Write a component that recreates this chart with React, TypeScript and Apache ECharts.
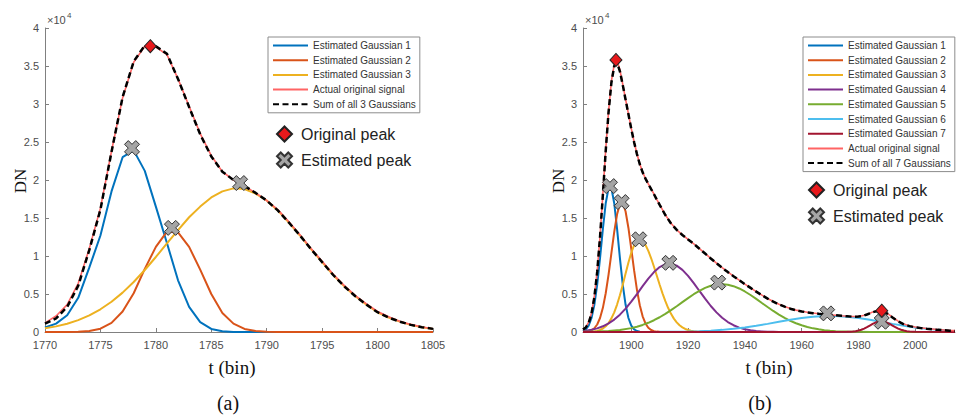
import React, { useEffect, useRef } from "react";
import * as echarts from "echarts";

// ---------- (a) left panel: values in units of 10^4 DN ----------
const binsA = [1770, 1771, 1772, 1773, 1774, 1775, 1776, 1777, 1778, 1779, 1780, 1781, 1782, 1783, 1784, 1785, 1786, 1787, 1788, 1789, 1790, 1791, 1792, 1793, 1794, 1795, 1796, 1797, 1798, 1799, 1800, 1801, 1802, 1803, 1804, 1805];
const gaussA1 = [0.06, 0.11, 0.22, 0.45, 0.85, 1.27, 1.85, 2.3, 2.39, 2.12, 1.65, 1.17, 0.68, 0.33, 0.13, 0.04, 0.01, 0, 0, 0, 0, 0, 0, 0, 0, 0, 0, 0, 0, 0, 0, 0, 0, 0, 0, 0];
const gaussA2 = [0, 0, 0.001, 0.004, 0.014, 0.044, 0.12, 0.27, 0.51, 0.83, 1.12, 1.32, 1.31, 1.12, 0.82, 0.5, 0.25, 0.11, 0.04, 0.012, 0.003, 0, 0, 0, 0, 0, 0, 0, 0, 0, 0, 0, 0, 0, 0, 0];
const gaussA3 = [0.049, 0.074, 0.109, 0.156, 0.218, 0.299, 0.398, 0.518, 0.658, 0.816, 0.987, 1.165, 1.34, 1.51, 1.65, 1.77, 1.85, 1.89, 1.88, 1.82, 1.73, 1.6, 1.44, 1.27, 1.09, 0.92, 0.75, 0.6, 0.47, 0.36, 0.26, 0.19, 0.136, 0.094, 0.063, 0.041];
const originalA = [0.12, 0.21, 0.36, 0.64, 1.1, 1.63, 2.38, 3.08, 3.55, 3.76, 3.75, 3.65, 3.33, 2.97, 2.61, 2.32, 2.11, 2.0, 1.92, 1.83, 1.73, 1.61, 1.45, 1.28, 1.1, 0.93, 0.76, 0.61, 0.48, 0.37, 0.27, 0.2, 0.14, 0.1, 0.066, 0.043];
const sumA = [0.11, 0.18, 0.33, 0.61, 1.08, 1.61, 2.37, 3.09, 3.56, 3.77, 3.76, 3.66, 3.33, 2.96, 2.6, 2.31, 2.11, 2.0, 1.92, 1.83, 1.73, 1.6, 1.44, 1.27, 1.09, 0.92, 0.75, 0.6, 0.47, 0.36, 0.26, 0.19, 0.136, 0.094, 0.063, 0.041];
const origPeakA = [[1779.5, 3.76]];
const estPeakA = [[1777.85, 2.42], [1781.45, 1.37], [1787.6, 1.96]];

// ---------- (b) right panel: [bin, value in 10^4 DN] ----------
const gaussB1 = [[1883, 0.013], [1884, 0.035], [1885, 0.084], [1886, 0.184], [1887, 0.358], [1888, 0.624], [1889, 0.972], [1890, 1.357], [1891, 1.694], [1892, 1.894], [1893, 1.894], [1894, 1.694], [1895, 1.357], [1896, 0.972], [1897, 0.624], [1898, 0.358], [1899, 0.184], [1900, 0.084], [1901, 0.035], [1902, 0.013], [1903, 0.004], [1904, 0.001], [1905, 0], [2014, 0]];
const gaussB2 = [[1883, 0.001], [1884, 0.004], [1885, 0.01], [1886, 0.022], [1887, 0.049], [1888, 0.099], [1889, 0.184], [1890, 0.318], [1891, 0.51], [1892, 0.756], [1893, 1.037], [1894, 1.317], [1895, 1.549], [1896, 1.686], [1897, 1.7], [1898, 1.585], [1899, 1.369], [1900, 1.095], [1901, 0.81], [1902, 0.555], [1903, 0.352], [1904, 0.207], [1905, 0.112], [1906, 0.056], [1907, 0.026], [1908, 0.011], [1909, 0.005], [1910, 0.002], [1911, 0], [2014, 0]];
const gaussB3 = [[1883, 0], [1884, 0.001], [1885, 0.002], [1886, 0.004], [1887, 0.008], [1888, 0.015], [1889, 0.027], [1890, 0.046], [1891, 0.075], [1892, 0.118], [1893, 0.179], [1894, 0.259], [1895, 0.361], [1896, 0.484], [1897, 0.622], [1898, 0.77], [1899, 0.914], [1900, 1.043], [1901, 1.143], [1902, 1.204], [1903, 1.219], [1904, 1.197], [1905, 1.146], [1906, 1.068], [1907, 0.97], [1908, 0.858], [1909, 0.74], [1910, 0.622], [1911, 0.509], [1912, 0.406], [1913, 0.315], [1914, 0.239], [1915, 0.176], [1916, 0.127], [1917, 0.089], [1918, 0.061], [1919, 0.04], [1920, 0.026], [1921, 0.016], [1922, 0.01], [1923, 0.006], [1924, 0.003], [1925, 0.002], [1926, 0], [2014, 0]];
const gaussB4 = [[1883, 0.016], [1884, 0.018], [1886, 0.03], [1888, 0.048], [1890, 0.075], [1892, 0.113], [1894, 0.163], [1896, 0.228], [1898, 0.307], [1900, 0.399], [1902, 0.499], [1904, 0.603], [1906, 0.702], [1908, 0.788], [1910, 0.854], [1912, 0.892], [1914, 0.898], [1916, 0.873], [1918, 0.818], [1920, 0.739], [1922, 0.644], [1924, 0.54], [1926, 0.438], [1928, 0.342], [1930, 0.258], [1932, 0.187], [1934, 0.131], [1936, 0.089], [1938, 0.058], [1940, 0.036], [1942, 0.022], [1944, 0.013], [1946, 0.007], [1948, 0.004], [1950, 0.002], [1952, 0], [2014, 0]];
const gaussB5 = [[1883, 0.002], [1888, 0.005], [1892, 0.012], [1896, 0.026], [1900, 0.051], [1902, 0.07], [1904, 0.093], [1906, 0.121], [1908, 0.155], [1910, 0.194], [1912, 0.238], [1914, 0.287], [1916, 0.339], [1918, 0.393], [1920, 0.446], [1922, 0.497], [1924, 0.542], [1926, 0.58], [1928, 0.608], [1930, 0.625], [1932, 0.63], [1934, 0.622], [1936, 0.603], [1938, 0.573], [1940, 0.533], [1942, 0.487], [1944, 0.436], [1946, 0.382], [1948, 0.329], [1950, 0.277], [1952, 0.229], [1954, 0.186], [1956, 0.147], [1958, 0.115], [1960, 0.088], [1962, 0.066], [1964, 0.048], [1966, 0.035], [1968, 0.024], [1970, 0.017], [1972, 0.011], [1974, 0.008], [1976, 0.005], [1978, 0.003], [1980, 0.002], [1984, 0], [2014, 0]];
const gaussB6 = [[1883, 0], [1900, 0.001], [1910, 0.002], [1916, 0.004], [1920, 0.007], [1924, 0.011], [1928, 0.018], [1932, 0.028], [1936, 0.042], [1940, 0.06], [1944, 0.082], [1948, 0.107], [1952, 0.134], [1956, 0.16], [1960, 0.183], [1964, 0.2], [1968, 0.209], [1972, 0.209], [1976, 0.2], [1980, 0.183], [1984, 0.16], [1988, 0.134], [1992, 0.107], [1996, 0.082], [2000, 0.06], [2004, 0.042], [2008, 0.028], [2012, 0.018], [2014, 0.014]];
const gaussB7 = [[1883, 0], [1976, 0.002], [1977, 0.004], [1978, 0.006], [1979, 0.011], [1980, 0.019], [1981, 0.03], [1982, 0.045], [1983, 0.064], [1984, 0.085], [1985, 0.106], [1986, 0.124], [1987, 0.136], [1988, 0.14], [1989, 0.136], [1990, 0.124], [1991, 0.106], [1992, 0.085], [1993, 0.064], [1994, 0.045], [1995, 0.03], [1996, 0.019], [1997, 0.011], [1998, 0.006], [1999, 0.004], [2000, 0.002], [2014, 0]];
const sumB = [[1883, 0.032], [1884, 0.06], [1885, 0.12], [1886, 0.243], [1887, 0.458], [1888, 0.791], [1889, 1.25], [1890, 1.804], [1891, 2.383], [1892, 2.893], [1893, 3.28], [1894, 3.5], [1895, 3.54], [1896, 3.43], [1897, 3.25], [1898, 3.057], [1899, 2.864], [1900, 2.672], [1901, 2.497], [1902, 2.341], [1903, 2.207], [1904, 2.101], [1905, 2.018], [1906, 1.947], [1907, 1.879], [1908, 1.812], [1909, 1.74], [1910, 1.672], [1912, 1.539], [1914, 1.428], [1916, 1.343], [1918, 1.277], [1920, 1.218], [1922, 1.16], [1924, 1.096], [1926, 1.032], [1928, 0.968], [1930, 0.906], [1932, 0.845], [1934, 0.788], [1936, 0.734], [1938, 0.682], [1940, 0.629], [1942, 0.58], [1944, 0.531], [1946, 0.484], [1948, 0.44], [1950, 0.4], [1952, 0.363], [1954, 0.333], [1956, 0.307], [1958, 0.287], [1960, 0.271], [1962, 0.258], [1964, 0.248], [1966, 0.24], [1968, 0.233], [1970, 0.227], [1972, 0.22], [1974, 0.213], [1976, 0.207], [1978, 0.201], [1980, 0.204], [1981, 0.207], [1982, 0.217], [1983, 0.23], [1984, 0.245], [1985, 0.259], [1986, 0.271], [1987, 0.276], [1988, 0.274], [1989, 0.263], [1990, 0.245], [1991, 0.22], [1992, 0.192], [1993, 0.165], [1994, 0.14], [1996, 0.101], [1998, 0.077], [2000, 0.062], [2002, 0.051], [2004, 0.042], [2006, 0.035], [2008, 0.028], [2010, 0.023], [2012, 0.018], [2014, 0.014]];
const originalB = [[1883, 0.035], [1884, 0.065], [1885, 0.13], [1886, 0.25], [1887, 0.47], [1888, 0.8], [1889, 1.26], [1890, 1.82], [1891, 2.4], [1892, 2.9], [1893, 3.3], [1894, 3.52], [1895, 3.57], [1896, 3.45], [1897, 3.26], [1898, 3.06], [1899, 2.87], [1900, 2.68], [1901, 2.5], [1902, 2.345], [1903, 2.21], [1904, 2.104], [1905, 2.02], [1906, 1.95], [1907, 1.882], [1908, 1.815], [1909, 1.743], [1910, 1.675], [1912, 1.541], [1914, 1.43], [1916, 1.345], [1918, 1.278], [1920, 1.219], [1922, 1.161], [1924, 1.097], [1926, 1.033], [1928, 0.97], [1930, 0.907], [1932, 0.846], [1934, 0.79], [1936, 0.735], [1938, 0.683], [1940, 0.63], [1942, 0.581], [1944, 0.532], [1946, 0.485], [1948, 0.441], [1950, 0.401], [1952, 0.364], [1954, 0.334], [1956, 0.308], [1958, 0.288], [1960, 0.272], [1962, 0.259], [1964, 0.249], [1966, 0.241], [1968, 0.234], [1970, 0.228], [1972, 0.221], [1974, 0.214], [1976, 0.208], [1978, 0.203], [1980, 0.206], [1981, 0.21], [1982, 0.22], [1983, 0.233], [1984, 0.248], [1985, 0.262], [1986, 0.274], [1987, 0.28], [1988, 0.277], [1989, 0.266], [1990, 0.248], [1991, 0.223], [1992, 0.195], [1993, 0.168], [1994, 0.143], [1996, 0.104], [1998, 0.08], [2000, 0.066], [2002, 0.055], [2004, 0.046], [2006, 0.039], [2008, 0.032], [2010, 0.027], [2012, 0.022], [2014, 0.018]];
const origPeakB = [[1894.6, 3.58], [1988.2, 0.28]];
const estPeakB = [[1892.5, 1.92], [1896.6, 1.71], [1902.8, 1.22], [1913.4, 0.91], [1930.6, 0.65], [1969, 0.245], [1988.2, 0.135]];
const ticksXB = [1900, 1920, 1940, 1960, 1980, 2000];

const namesA = ["Estimated Gaussian 1", "Estimated Gaussian 2", "Estimated Gaussian 3", "Actual original signal", "Sum of all 3 Gaussians"];
const namesB = ["Estimated Gaussian 1", "Estimated Gaussian 2", "Estimated Gaussian 3", "Estimated Gaussian 4", "Estimated Gaussian 5", "Estimated Gaussian 6", "Estimated Gaussian 7", "Actual original signal", "Sum of all 7 Gaussians"];
const markerNames = ["Original peak", "Estimated peak"];

const gaussColors = ["#0072BD", "#D95319", "#EDB120", "#7E2F8E", "#77AC30", "#4DBEEE", "#A2142F"];
const ORIG_COLOR = "#FF6464";
const SANS = "'Liberation Sans', Arial, Helvetica, sans-serif";
const SERIF = "'Liberation Serif', 'Times New Roman', serif";
const X_SYMBOL = "path://M2.5,0L5,2.5L7.5,0L10,2.5L7.5,5L10,7.5L7.5,10L5,7.5L2.5,10L0,7.5L2.5,5L0,2.5Z";
const AXIS_COLOR = "#808080";
const LABEL_COLOR = "#4d4d4d";

function App() {
  const ref = useRef<HTMLDivElement>(null);
  useEffect(() => {
    if (!ref.current) return;
    const chart = echarts.init(ref.current, undefined, { renderer: "svg" });

    const axisBase = {
      axisLine: { show: true, onZero: false, lineStyle: { color: AXIS_COLOR, width: 1 } },
      axisTick: { show: true, inside: true, length: 4, lineStyle: { color: AXIS_COLOR } },
      splitLine: { show: false },
    };
    const labelBase = { color: LABEL_COLOR, fontSize: 11, fontFamily: SANS, formatter: (v: number) => String(v) };

    const lineSeries = (name: string, data: any[], color: string, idx: number, extra: any = {}) => ({
      type: "line",
      name,
      data,
      xAxisIndex: idx,
      yAxisIndex: idx,
      symbol: "none",
      showSymbol: false,
      color,
      lineStyle: { color, width: 2 },
      animation: false,
      silent: true,
      ...extra,
    });

    const pairsA = (vals: number[]) => binsA.map((t, i) => [t, vals[i]]);

    const series: any[] = [];
    [gaussA1, gaussA2, gaussA3].forEach((g, i) => {
      series.push(lineSeries(`Estimated Gaussian ${i + 1}`, pairsA(g), gaussColors[i], 0));
    });
    series.push(lineSeries("Actual original signal", pairsA(originalA), ORIG_COLOR, 0, { lineStyle: { color: ORIG_COLOR, width: 1.6 } }));
    series.push(lineSeries("Sum of all 3 Gaussians", pairsA(sumA), "#000", 0, { lineStyle: { color: "#000", width: 2.5, type: [6, 3.5] } }));

    [gaussB1, gaussB2, gaussB3, gaussB4, gaussB5, gaussB6, gaussB7].forEach((g, i) => {
      series.push(lineSeries(`Estimated Gaussian ${i + 1}`, g, gaussColors[i], 1));
    });
    series.push(lineSeries("Actual original signal", originalB, ORIG_COLOR, 1, { lineStyle: { color: ORIG_COLOR, width: 1.6 } }));
    series.push(lineSeries("Sum of all 7 Gaussians", sumB, "#000", 1, { lineStyle: { color: "#000", width: 2.5, type: [6, 3.5] } }));

    const origScatter = (data: number[][], idx: number) => ({
      type: "scatter",
      name: "Original peak",
      data,
      xAxisIndex: idx,
      yAxisIndex: idx,
      symbol: "diamond",
      symbolSize: [12, 13],
      itemStyle: { color: "#E8191C", borderColor: "#222", borderWidth: 1, opacity: 1 },
      clip: false,
      silent: true,
      z: 5,
    });
    const estScatter = (data: number[][], idx: number) => ({
      type: "scatter",
      name: "Estimated peak",
      data,
      xAxisIndex: idx,
      yAxisIndex: idx,
      symbol: X_SYMBOL,
      symbolSize: 15,
      itemStyle: { color: "#A5A5A5", borderColor: "#333", borderWidth: 1, opacity: 1 },
      clip: false,
      silent: true,
      z: 6,
    });
    series.push(origScatter(origPeakA, 0));
    series.push(estScatter(estPeakA, 0));
    series.push(origScatter(origPeakB, 1));
    series.push(estScatter(estPeakB, 1));

    const boxLegend = (left: number, data: string[]) => ({
      show: true,
      orient: "vertical",
      left,
      top: 37,
      data,
      itemWidth: 35,
      itemHeight: 11,
      itemGap: 3.7,
      padding: [3, 4, 3, 4],
      borderColor: "#8c8c8c",
      borderWidth: 1,
      backgroundColor: "#fff",
      selectedMode: false,
      itemStyle: { opacity: 0 },
      textStyle: { fontSize: 10, color: "#333", fontFamily: SANS, lineHeight: 11 },
    });
    const markLegend = (left: number, top: number) => ({
      show: true,
      orient: "vertical",
      left,
      top,
      data: markerNames,
      itemWidth: 15,
      itemHeight: 15,
      itemGap: 8,
      padding: 0,
      selectedMode: false,
      textStyle: { fontSize: 16, color: "#222", fontFamily: SANS, lineHeight: 18, padding: [0, 0, 0, 4] },
    });

    const yAxis = (idx: number) => ({
      type: "value",
      gridIndex: idx,
      min: 0,
      max: 4,
      interval: 0.5,
      ...axisBase,
      axisLabel: { ...labelBase, margin: 6 },
    });

    const option: any = {
      animation: false,
      backgroundColor: "#fff",
      grid: [
        { left: 45, top: 28, width: 388, height: 304, containLabel: false },
        { left: 583, top: 28, width: 372, height: 304, containLabel: false },
      ],
      xAxis: [
        {
          type: "value",
          gridIndex: 0,
          min: 1770,
          max: 1805,
          interval: 5,
          ...axisBase,
          axisLabel: { ...labelBase, margin: 7 },
        },
        {
          type: "value",
          gridIndex: 1,
          min: 1883,
          max: 2014,
          ...axisBase,
          axisTick: { ...axisBase.axisTick, customValues: ticksXB },
          axisLabel: { ...labelBase, margin: 7, customValues: ticksXB },
        },
      ],
      yAxis: [yAxis(0), yAxis(1)],
      legend: [
        boxLegend(268, namesA),
        markLegend(276, 125),
        boxLegend(803, namesB),
        markLegend(808, 181),
      ],
      graphic: [
        { type: "text", x: 47, y: 20, style: { text: "×10", fontSize: 11, fontFamily: SANS, fill: LABEL_COLOR, verticalAlign: "middle" } },
        { type: "text", x: 67, y: 15, style: { text: "4", fontSize: 8, fontFamily: SANS, fill: LABEL_COLOR, verticalAlign: "middle" } },
        { type: "text", x: 585, y: 20, style: { text: "×10", fontSize: 11, fontFamily: SANS, fill: LABEL_COLOR, verticalAlign: "middle" } },
        { type: "text", x: 605, y: 15, style: { text: "4", fontSize: 8, fontFamily: SANS, fill: LABEL_COLOR, verticalAlign: "middle" } },
        { type: "text", x: 20, y: 181, rotation: Math.PI / 2, style: { text: "DN", fontSize: 17, fontFamily: SERIF, fill: "#111", align: "center", verticalAlign: "middle" } },
        { type: "text", x: 558, y: 181, rotation: Math.PI / 2, style: { text: "DN", fontSize: 17, fontFamily: SERIF, fill: "#111", align: "center", verticalAlign: "middle" } },
        { type: "text", x: 232, y: 367, style: { text: "t (bin)", fontSize: 19, fontFamily: SERIF, fill: "#111", align: "center", verticalAlign: "middle" } },
        { type: "text", x: 769, y: 367, style: { text: "t (bin)", fontSize: 19, fontFamily: SERIF, fill: "#111", align: "center", verticalAlign: "middle" } },
        { type: "text", x: 228, y: 403, style: { text: "(a)", fontSize: 20, fontFamily: SERIF, fill: "#111", align: "center", verticalAlign: "middle" } },
        { type: "text", x: 760, y: 403, style: { text: "(b)", fontSize: 20, fontFamily: SERIF, fill: "#111", align: "center", verticalAlign: "middle" } },
      ],
      series,
    };

    chart.setOption(option);
    return () => {
      chart.dispose();
    };
  }, []);

  return (
    <div
      ref={ref}
      style={{ position: "absolute", left: 0, top: 0, width: 958, height: 415, background: "#fff" }}
    />
  );
}

export default App;
